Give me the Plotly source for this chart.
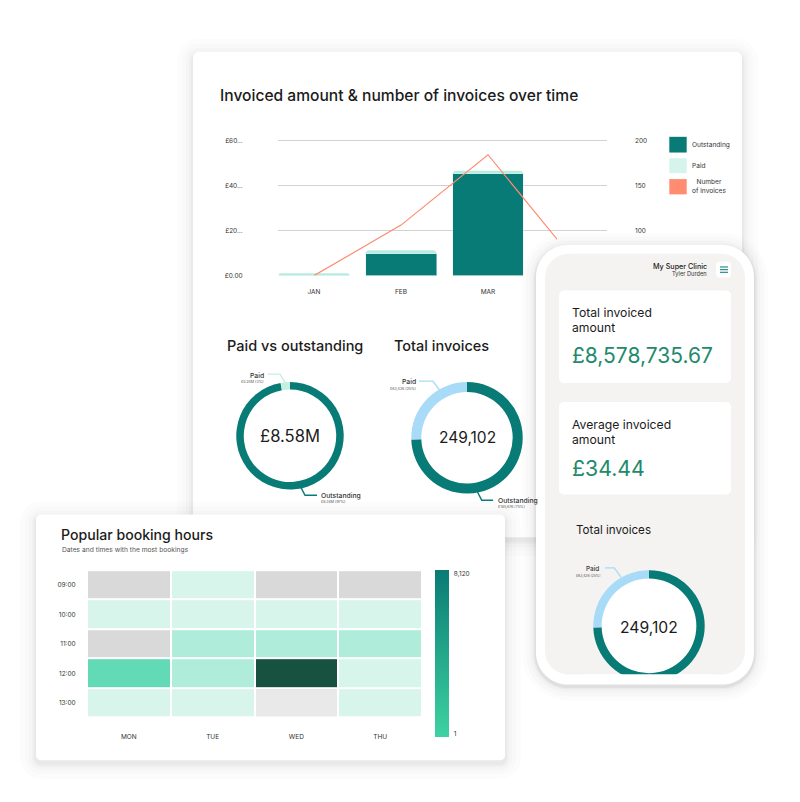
import plotly.graph_objects as go

W, H = 800, 802
FONT = "Inter"

# ---------------- data ----------------
months = ["JAN", "FEB", "MAR", "APR"]
outstanding_k = [0, 9.7, 45.2, None]
paid_k = [1.0, 1.5, 1.2, None]
invoice_counts = [50, 106, 184, 66]
amount_ticks = [0, 20, 40, 60]
amount_tick_text = ["£0.00", "£20…", "£40…", "£60…"]
count_ticks = [100, 150, 200]

pvo_labels = ["Outstanding", "Paid"]
pvo_values = [8.34, 0.24]
pvo_text = ["£8.34M (97%)", "£0.24M (3%)"]
pvo_total = "£8.58M"

inv_labels = ["Outstanding", "Paid"]
inv_values = [185676, 63426]
inv_text = ["£185,676 (75%)", "£63,426 (25%)"]
inv_total = "249,102"

days = ["MON", "TUE", "WED", "THU"]
hours = ["09:00", "10:00", "11:00", "12:00", "13:00"]
bookings = [
    [0, 420, 0, 0],
    [510, 380, 460, 530],
    [0, 1650, 1480, 1720],
    [3400, 1560, 8120, 610],
    [590, 470, 0, 540],
]
highlight = [
    [None, None, None, None],
    [None, None, None, None],
    [None, None, None, None],
    [None, None, None, None],
    [None, None, 1, None],
]
booking_range = [1, 8120]

total_invoiced = "£8,578,735.67"
average_invoiced = "£34.44"

# ---------------- styles ----------------
TEAL = "#087b76"
PAID_BAR = "#b4eedd"
PAID_SWATCH = "#d5f5ec"
PAID_RING = "#c4f0e2"
BLUE = "#a7dbf7"
SALMON = "#ff8b70"
GREEN_NUM = "#228a6c"
DARK = "#1b1b1b"
AX = "#333333"


def X(x):
    return x / W


def Y(y):
    return 1 - y / H


shapes = []
annotations = []


def f(v):
    return f"{v:.5f}"


def rrect(x0, y0, x1, y1, r, fill, layer="below"):
    k = 0.5523 * r
    P = lambda x, y: f"{f(X(x))},{f(Y(y))}"
    path = (
        f"M{P(x0 + r, y0)} L{P(x1 - r, y0)} "
        f"C{P(x1 - r + k, y0)} {P(x1, y0 + r - k)} {P(x1, y0 + r)} "
        f"L{P(x1, y1 - r)} "
        f"C{P(x1, y1 - r + k)} {P(x1 - r + k, y1)} {P(x1 - r, y1)} "
        f"L{P(x0 + r, y1)} "
        f"C{P(x0 + r - k, y1)} {P(x0, y1 - r + k)} {P(x0, y1 - r)} "
        f"L{P(x0, y0 + r)} "
        f"C{P(x0, y0 + r - k)} {P(x0 + r - k, y0)} {P(x0 + r, y0)} Z"
    )
    shapes.append(dict(type="path", xref="paper", yref="paper", path=path,
                       fillcolor=fill, line=dict(width=0), layer=layer))


def card(x0, y0, x1, y1, r, fill, spread=(16, 11, 7, 4, 2), alphas=(.010, .012, .016, .020, .028), dy=3):
    for s, a in zip(spread, alphas):
        rrect(x0 - s, y0 - s + dy, x1 + s, y1 + s + dy, r + s, f"rgba(0,0,0,{a})")
    rrect(x0, y0, x1, y1, r, fill)


def polyline(pts, color, width=1.4, layer="below"):
    path = "M" + " L".join(f"{f(X(x))},{f(Y(y))}" for x, y in pts)
    shapes.append(dict(type="path", xref="paper", yref="paper", path=path,
                       line=dict(color=color, width=width), layer=layer))


def text(x, y, s, size, color=DARK, anchor="left", weight=None):
    fnt = dict(size=size, color=color, family=FONT)
    if weight:
        fnt["weight"] = weight
    annotations.append(dict(x=X(x), y=Y(y), xref="paper", yref="paper", text=s,
                            showarrow=False, xanchor=anchor, yanchor="middle",
                            font=fnt, borderpad=0))


# ---------------- cards / frames ----------------
card(193, 52, 742, 540, 6, "white")
card(36, 517, 505, 764, 5, "white")
card(536, 246, 754, 688, 32, "white", spread=(14, 10, 6, 3, 1.5), alphas=(.012, .016, .02, .03, .05), dy=2)
rrect(545, 255, 745, 678, 24, "#f4f3f1")
rrect(559, 292, 731, 385, 5, "white")
rrect(559, 404, 731, 497, 5, "white")
rrect(716, 263, 731, 279, 3, "white")
for yy in (268.3, 271, 273.7):
    shapes.append(dict(type="line", xref="paper", yref="paper", x0=X(720), x1=X(728),
                       y0=Y(yy), y1=Y(yy), line=dict(color="#2a8f86", width=1.2), layer="below"))
# white face behind the phone donut
shapes.append(dict(type="circle", xref="paper", yref="paper", x0=X(599), x1=X(699),
                   y0=Y(679), y1=Y(579), fillcolor="white", line=dict(width=0), layer="below"))

# legend (bar chart)
legend_items = [("Outstanding", TEAL, 137.5, 153.3), ("Paid", PAID_SWATCH, 159, 174),
                ("Number<br>of invoices", SALMON, 180, 195.3)]
for lab, col, y0, y1 in legend_items:
    shapes.append(dict(type="rect", xref="paper", yref="paper", x0=X(669.3), x1=X(686.7),
                       y0=Y(y1), y1=Y(y0), fillcolor=col, line=dict(width=0), layer="below"))
    text(691, (y0 + y1) / 2, lab, 6.6, "#333")

# leader lines for donuts
polyline([(268, 376), (280, 376), (286, 386)], PAID_RING)
polyline([(300, 488), (305, 497.7), (317, 497.7)], TEAL)
polyline([(419, 383), (433, 383), (440, 392.7)], BLUE)
polyline([(476.7, 493), (481.7, 502.7), (493, 502.7)], TEAL)
polyline([(605, 570.7), (614.3, 570.7), (621, 580)], BLUE)

# cover for the phone donut bottom (screen edge)
shapes.append(dict(type="rect", xref="paper", yref="paper", x0=X(585), x1=X(712),
                   y0=Y(686.5), y1=Y(677.6), fillcolor="white", line=dict(width=0), layer="above"))

# ---------------- texts ----------------
text(219, 96, "Invoiced amount & number of invoices over time", 15.6, weight=500)
text(226, 347.5, "Paid vs outstanding", 14.5, weight=500)
text(393, 347.5, "Total invoices", 14.5, weight=500)
text(290, 438, pvo_total, 16.6, anchor="center")
text(467, 440, inv_total, 15.5, anchor="center")
text(264.5, 377.7, pvo_labels[1], 6.8, "#333", anchor="right", weight=500)
text(264.5, 383.8, pvo_text[1], 3.6, "#555", anchor="right")
text(320, 497.7, pvo_labels[0], 6.8, "#333", weight=500)
text(320, 504.5, pvo_text[0], 3.6, "#555")
text(417, 383.3, inv_labels[1], 6.8, "#333", anchor="right", weight=500)
text(417, 390.5, inv_text[1], 3.6, "#555", anchor="right")
text(496.5, 503.3, inv_labels[0], 6.8, "#333", weight=500)
text(496.5, 510, inv_text[0], 3.6, "#555")

text(60, 537, "Popular booking hours", 14.1, weight=500)
text(60.5, 552.5, "Dates and times with the most bookings", 6.7, "#555")

text(708, 267.7, "My Super Clinic", 7.2, "#222", anchor="right", weight=500)
text(708, 274.8, "Tyler Durden", 5.7, "#333", anchor="right")
text(571, 313.7, "Total invoiced", 12.2)
text(571, 329.3, "amount", 12.2)
text(570.5, 357.5, total_invoiced, 21, GREEN_NUM)
text(571, 426.5, "Average invoiced", 12.2)
text(571, 441.5, "amount", 12.2)
text(570.5, 470, average_invoiced, 21.3, GREEN_NUM)
text(574.5, 532.7, "Total invoices", 11.6)
text(649, 630.5, inv_total, 15.7, anchor="center")
text(599.5, 572, inv_labels[1], 6.4, "#333", anchor="right", weight=500)
text(600.5, 578.5, inv_text[1], 3.4, "#555", anchor="right")

# ---------------- traces ----------------
fig = go.Figure()

fig.add_trace(go.Bar(x=months, y=outstanding_k, name="Outstanding", marker=dict(color=TEAL, cornerradius=3),
                     xaxis="x", yaxis="y", hoverinfo="skip"))
fig.add_trace(go.Bar(x=months, y=paid_k, name="Paid", marker=dict(color=PAID_BAR, cornerradius=3),
                     xaxis="x", yaxis="y", hoverinfo="skip"))
fig.add_trace(go.Scatter(x=months, y=invoice_counts, name="Number of invoices", mode="lines",
                         line=dict(color=SALMON, width=1.2), xaxis="x2", yaxis="y2", hoverinfo="skip"))

fig.add_trace(go.Pie(values=pvo_values, labels=pvo_labels, hole=0.86, sort=False, direction="clockwise",
                     rotation=0, marker=dict(colors=[TEAL, PAID_RING], line=dict(width=0)),
                     textinfo="none", hoverinfo="skip",
                     domain=dict(x=[X(236), X(344)], y=[Y(492), Y(384)])))
fig.add_trace(go.Pie(values=inv_values, labels=inv_labels, hole=0.82, sort=False, direction="clockwise",
                     rotation=0, marker=dict(colors=[TEAL, BLUE], line=dict(width=0)),
                     textinfo="none", hoverinfo="skip",
                     domain=dict(x=[X(411), X(523)], y=[Y(496), Y(384)])))
fig.add_trace(go.Pie(values=inv_values, labels=inv_labels, hole=0.85, sort=False, direction="clockwise",
                     rotation=0, marker=dict(colors=[TEAL, BLUE], line=dict(width=0)),
                     textinfo="none", hoverinfo="skip",
                     domain=dict(x=[X(593), X(705)], y=[Y(685), Y(573)])))

zmax = booking_range[1]
step_scale = [
    [0.0, "#d9d9d9"], [0.0001, "#d9d9d9"],
    [0.0001, "#d7f5eb"], [0.1, "#d7f5eb"],
    [0.1, "#afecd9"], [0.3, "#afecd9"],
    [0.3, "#62dab5"], [0.6, "#62dab5"],
    [0.6, "#175241"], [1.0, "#175241"],
]
fig.add_trace(go.Heatmap(z=bookings, x=days, y=hours, colorscale=step_scale, zmin=0, zmax=zmax,
                         showscale=False, xgap=2, ygap=2, xaxis="x3", yaxis="y3", hoverinfo="skip"))
fig.add_trace(go.Heatmap(z=highlight, x=days, y=hours, colorscale=[[0, "#e9e9e9"], [1, "#e9e9e9"]],
                         showscale=False, xgap=2, ygap=2, xaxis="x3", yaxis="y3", hoverinfo="skip"))
span = booking_range[1] - booking_range[0]
fig.add_trace(go.Scatter(
    x=[None, None], y=[None, None], mode="markers", xaxis="x3", yaxis="y3", hoverinfo="skip",
    marker=dict(color=booking_range, cmin=booking_range[0], cmax=booking_range[1],
                colorscale=[[0, "#3ed2a1"], [1, "#097b74"]], showscale=True,
                colorbar=dict(x=X(435), xanchor="left", y=Y(573), yanchor="top", len=167, lenmode="pixels",
                              thickness=14, thicknessmode="pixels", outlinewidth=0, xpad=0, ypad=0,
                              tickvals=[booking_range[0] + 0.02 * span, booking_range[1] - 0.02 * span],
                              ticktext=[f"{v:,}" for v in booking_range],
                              ticks="outside", ticklen=4, tickcolor="rgba(0,0,0,0)",
                              tickfont=dict(size=6.5, color="#333", family=FONT)))))

tick_font = dict(size=6.5, color=AX, family=FONT)
fig.update_layout(
    width=W, height=H, margin=dict(l=0, r=0, t=0, b=0),
    paper_bgcolor="white", plot_bgcolor="rgba(0,0,0,0)",
    showlegend=False, barmode="stack", bargap=0.184,
    font=dict(family=FONT),
    shapes=shapes, annotations=annotations,
    xaxis=dict(domain=[X(278), X(607)], range=[-0.414, 3.368], type="category",
               categoryorder="array", categoryarray=months, tickmode="array", tickvals=months[:3],
               showgrid=False, zeroline=False,
               showline=False, ticks="outside", ticklen=10, tickcolor="rgba(0,0,0,0)",
               tickfont=tick_font, anchor="y", fixedrange=True),
    yaxis=dict(domain=[Y(277), Y(134.2)], range=[0, 63], tickvals=amount_ticks, ticktext=amount_tick_text,
               showgrid=True, gridcolor="#d2d2d2", gridwidth=1, zeroline=False, showline=False,
               ticks="outside", ticklen=33, tickcolor="rgba(0,0,0,0)", tickfont=tick_font, anchor="x"),
    xaxis2=dict(domain=[X(278), X(557)], range=[-0.414, 2.793], type="category",
                categoryorder="array", categoryarray=months, visible=False, anchor="y2"),
    yaxis2=dict(domain=[Y(277), Y(134.2)], range=[50, 207.5], tickvals=count_ticks,
                showgrid=False, zeroline=False, showline=False, side="right", anchor="free",
                position=X(634), ticks="", tickfont=tick_font),
    xaxis3=dict(domain=[X(87), X(422)], type="category", categoryorder="array", categoryarray=days,
                showgrid=False, zeroline=False, showline=False, ticks="outside", ticklen=13,
                tickcolor="rgba(0,0,0,0)", tickfont=tick_font, anchor="y3"),
    yaxis3=dict(domain=[Y(721), Y(573)], type="category", categoryorder="array", categoryarray=hours,
                autorange="reversed", showgrid=False, zeroline=False, showline=False, ticks="outside",
                ticklen=9, tickcolor="rgba(0,0,0,0)", tickfont=tick_font, anchor="x3"),
)

fig.write_html("out.html")
